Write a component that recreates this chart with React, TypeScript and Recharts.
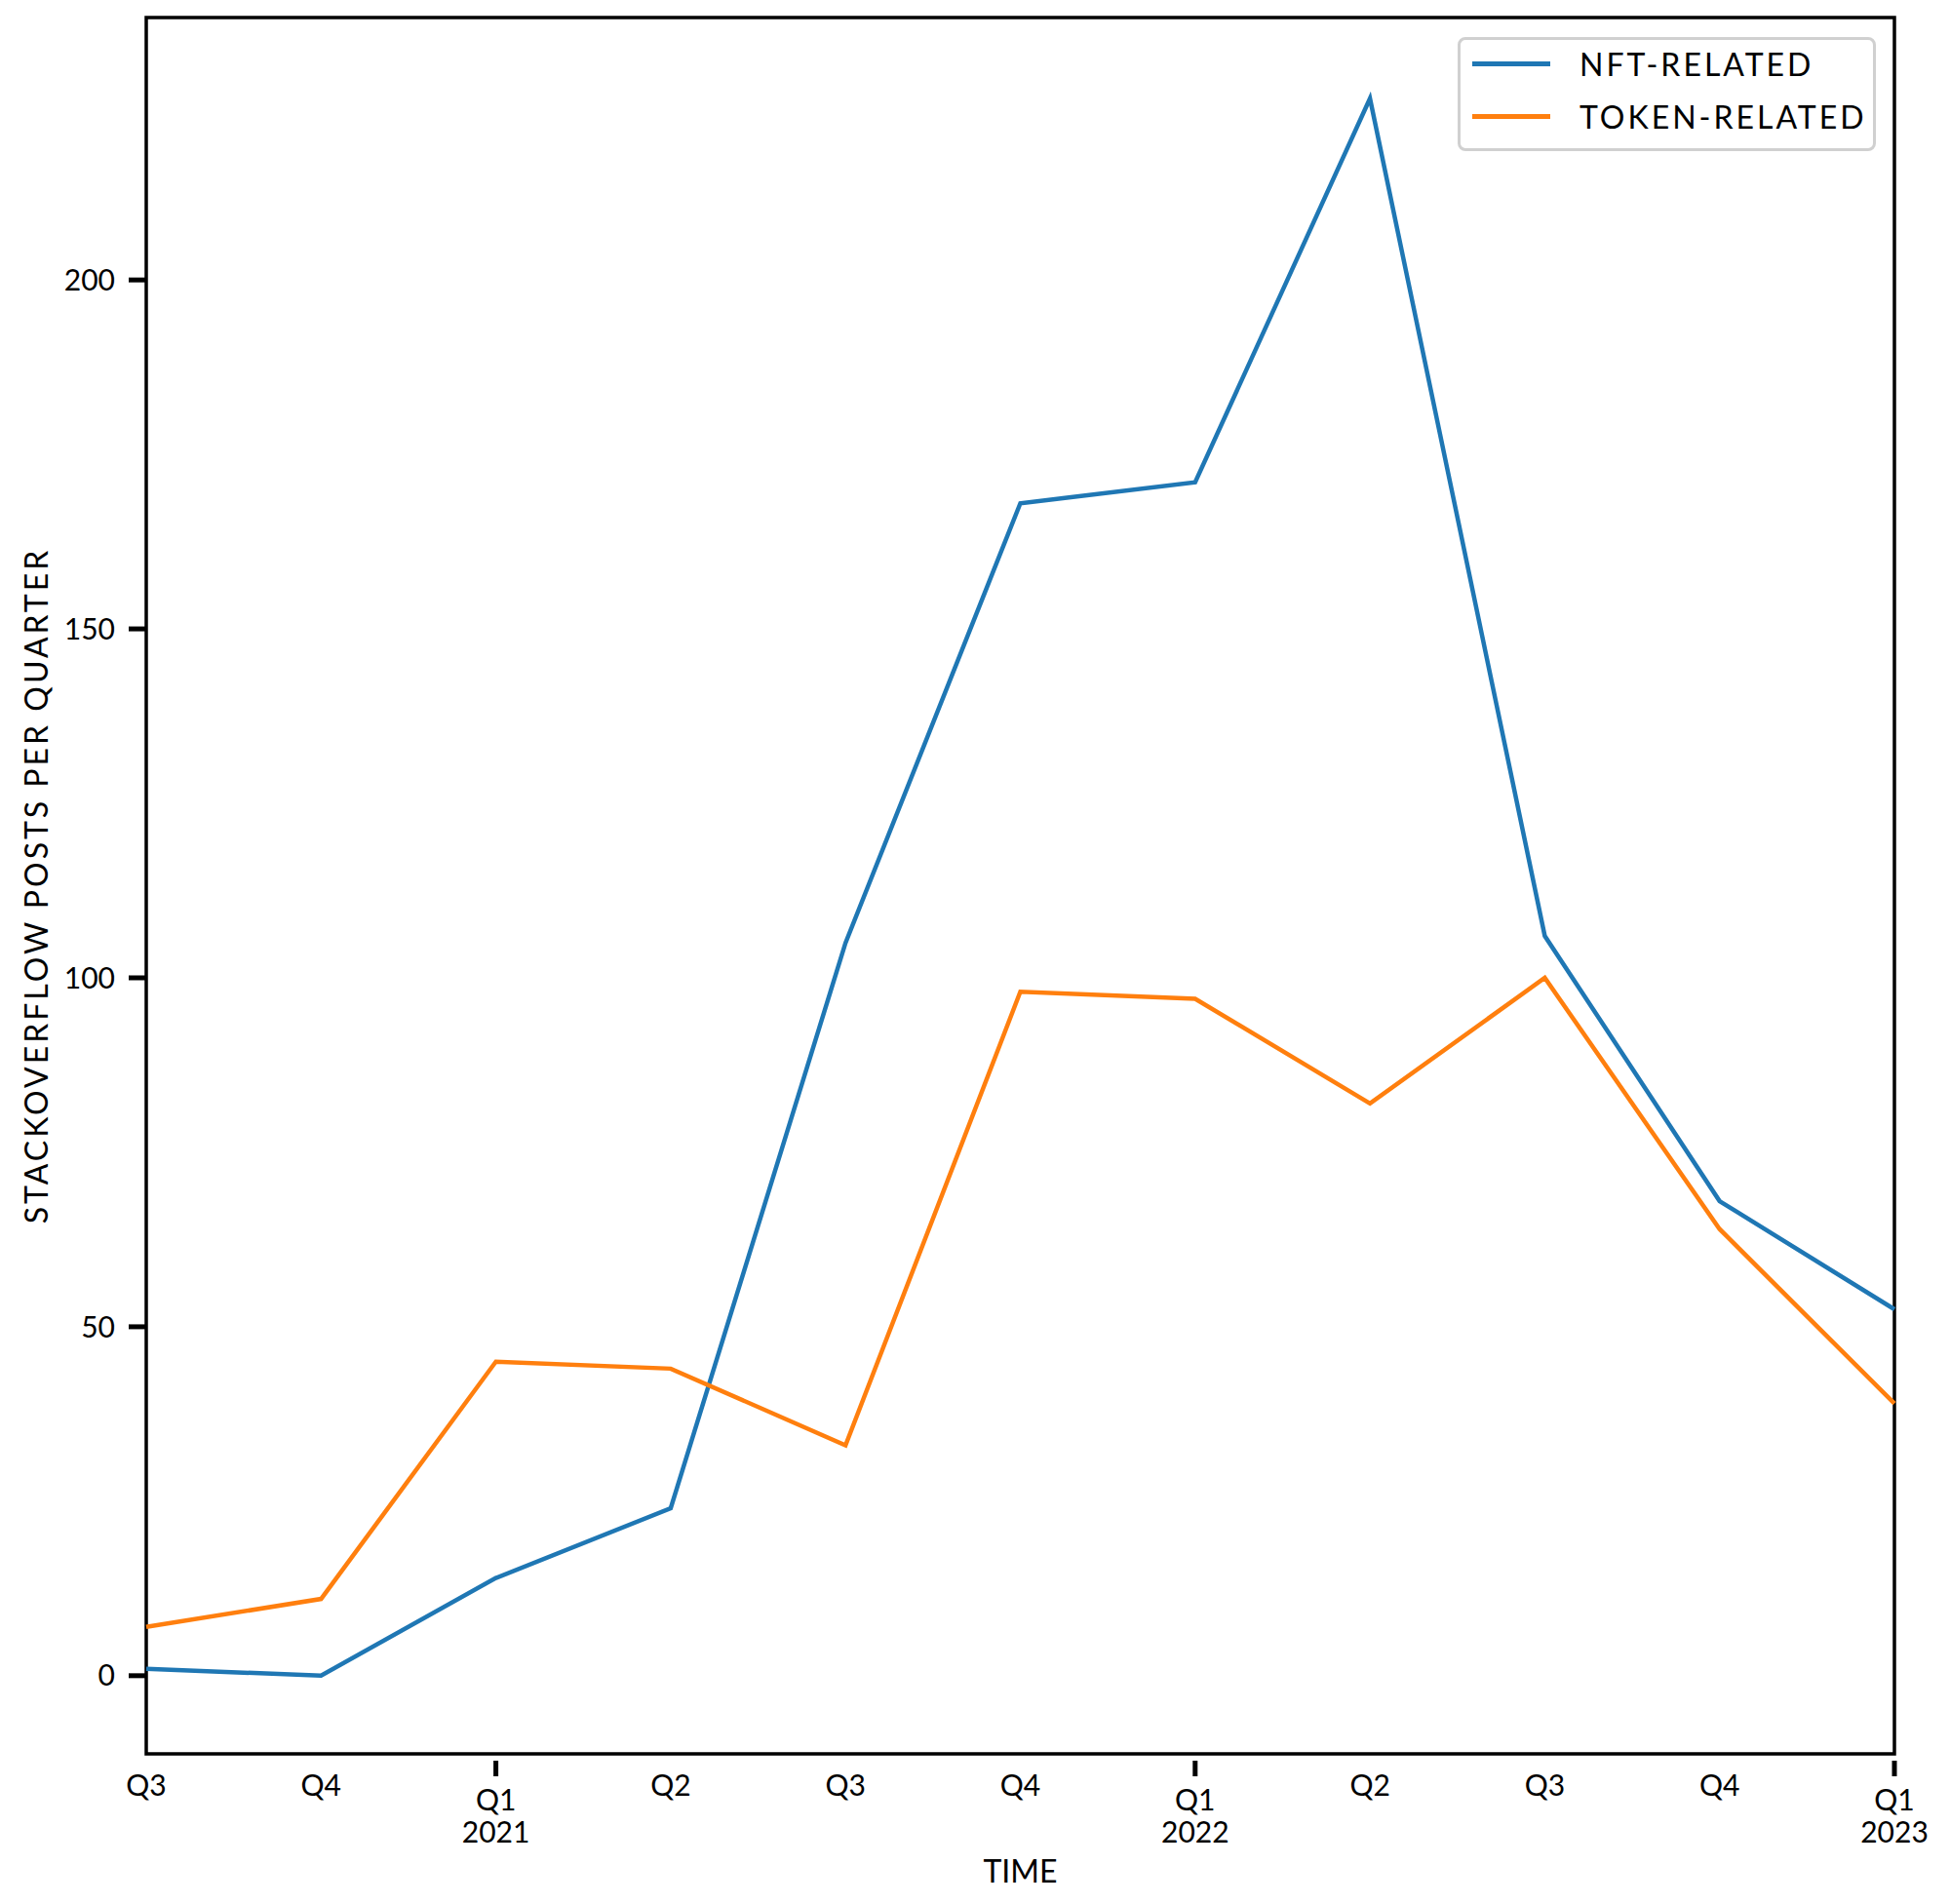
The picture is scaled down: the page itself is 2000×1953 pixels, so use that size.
import { LineChart, Line, XAxis, YAxis, Legend, ReferenceArea } from 'recharts';

// quarterly posts, Q3 2020 .. Q1 2023
const quarterIndex = [0, 1, 2, 3, 4, 5, 6, 7, 8, 9, 10];
const quarterLabels = ['Q3', 'Q4', 'Q1', 'Q2', 'Q3', 'Q4', 'Q1', 'Q2', 'Q3', 'Q4', 'Q1'];
const yearLabels = ['', '', '2021', '', '', '', '2022', '', '', '', '2023'];
const nftPosts = [1, 0, 14, 24, 105, 168, 171, 226, 106, 68, 52.5];
const tokenPosts = [7, 11, 45, 44, 33, 98, 97, 82, 100, 64, 39];
const yTicks = [0, 50, 100, 150, 200];

const Y_MIN = -11.2;
const Y_MAX = 237.6;
const FONT = 'Lato, "DejaVu Sans", sans-serif';

const chartData = quarterIndex.map((q, i) => ({
  q,
  nft: nftPosts[i],
  token: tokenPosts[i],
}));

function QuarterTick({ x, y, payload }: any) {
  const i = payload.value as number;
  const year = yearLabels[i];
  if (year) {
    return (
      <g>
        <line x1={x} x2={x} y1={y + 7} y2={y + 23} stroke="#000" strokeWidth={5} />
        <text x={x} y={y + 46} textAnchor="middle" dominantBaseline="central" fontSize={30} fontFamily={FONT} fill="#000">
          {quarterLabels[i]}
        </text>
        <text x={x} y={y + 79} textAnchor="middle" dominantBaseline="central" fontSize={30} fontFamily={FONT} fill="#000">
          {year}
        </text>
      </g>
    );
  }
  return (
    <text x={x} y={y + 31} textAnchor="middle" dominantBaseline="central" fontSize={30} fontFamily={FONT} fill="#000">
      {quarterLabels[i]}
    </text>
  );
}

function LegendBox({ payload }: any) {
  return (
    <div
      style={{
        width: 429,
        height: 117,
        boxSizing: 'border-box',
        border: '3px solid #d0d0d0',
        borderRadius: 8,
        background: '#fff',
        padding: '0 0 0 12px',
        fontFamily: FONT,
        fontSize: 32,
        letterSpacing: 3,
        color: '#000',
      }}
    >
      {(payload || []).map((p: any, i: number) => (
        <div key={p.value} style={{ display: 'flex', alignItems: 'center', height: 54, marginTop: i === 0 ? -3 : 0 }}>
          <div style={{ width: 80, height: 5, background: p.color, marginRight: 30 }} />
          <span>{p.value}</span>
        </div>
      ))}
    </div>
  );
}

export default function App() {
  return (
    <div style={{ position: 'absolute', left: 0, top: 0, background: '#fff' }}>
      <LineChart width={2000} height={1953} data={chartData} margin={{ top: 18, right: 57, left: 0, bottom: 0 }}>
        <XAxis
          dataKey="q"
          type="number"
          domain={[0, 10]}
          ticks={quarterIndex}
          interval={0}
          height={154}
          axisLine={false}
          tickLine={false}
          tickSize={0}
          tickMargin={0}
          tick={<QuarterTick />}
          label={{ value: 'TIME', position: 'insideBottom', offset: 22, fontSize: 32, fontFamily: FONT, fill: '#000' }}
        />
        <YAxis
          type="number"
          domain={[Y_MIN, Y_MAX]}
          ticks={yTicks}
          width={150}
          axisLine={false}
          tickLine={{ stroke: '#000', strokeWidth: 5 }}
          tickSize={18}
          tickMargin={14}
          tick={{ fontSize: 30, fontFamily: FONT, fill: '#000' }}
          label={{
            value: 'STACKOVERFLOW POSTS PER QUARTER',
            angle: -90,
            position: 'insideLeft',
            offset: 38,
            fontSize: 32,
            fontFamily: FONT,
            fill: '#000',
            style: { textAnchor: 'middle', letterSpacing: 3 },
          }}
        />
        <ReferenceArea x1={0} x2={10} y1={Y_MIN} y2={Y_MAX} fill="none" stroke="#000" strokeWidth={3.5} ifOverflow="visible" />
        <Line type="linear" dataKey="nft" name="NFT-RELATED" stroke="#1f77b4" strokeWidth={4.5} dot={false} isAnimationActive={false} />
        <Line type="linear" dataKey="token" name="TOKEN-RELATED" stroke="#ff7f0e" strokeWidth={4.5} dot={false} isAnimationActive={false} />
        <Legend
          verticalAlign="middle"
          align="center"
          layout="horizontal"
          content={<LegendBox />}
          wrapperStyle={{ position: 'absolute', top: 38, left: 1495, right: 'auto', bottom: 'auto', width: 429, height: 117 }}
        />
      </LineChart>
    </div>
  );
}
